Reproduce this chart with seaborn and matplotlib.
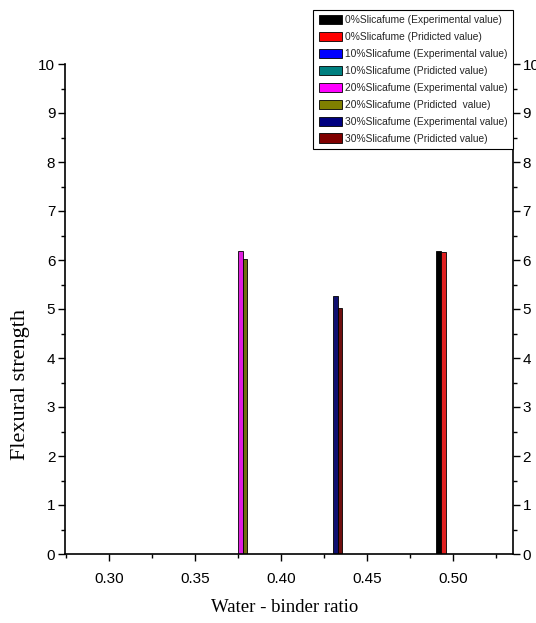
import numpy as np
import pandas as pd
import matplotlib
matplotlib.use("Agg")
import matplotlib.pyplot as plt
import seaborn as sns
from matplotlib.patches import Patch
from matplotlib.ticker import MultipleLocator
from matplotlib import font_manager

# ---------------- data ----------------
series_labels = [
    "0%Slicafume (Experimental value)",
    "0%Slicafume (Pridicted value)",
    "10%Slicafume (Experimental value)",
    "10%Slicafume (Pridicted value)",
    "20%Slicafume (Experimental value)",
    "20%Slicafume (Pridicted  value)",
    "30%Slicafume (Experimental value)",
    "30%Slicafume (Pridicted value)",
]
series_colors = ["#000000", "#FF0000", "#0000FF", "#008080",
                 "#FF00FF", "#808000", "#000080", "#800000"]

# visible bars (10% series have no visible bars)
bar_series = [
    "0%Slicafume (Experimental value)",
    "0%Slicafume (Pridicted value)",
    "20%Slicafume (Experimental value)",
    "20%Slicafume (Pridicted  value)",
    "30%Slicafume (Experimental value)",
    "30%Slicafume (Pridicted value)",
]
bar_ratio = [0.4918, 0.4945, 0.3763, 0.3790, 0.4316, 0.4343]
bar_strength = [6.18, 6.16, 6.18, 6.02, 5.27, 5.03]

x_ticks = [0.30, 0.35, 0.40, 0.45, 0.50]
x_ticklabels = ["0.30", "0.35", "0.40", "0.45", "0.50"]
y_ticks = list(range(0, 11))

# ---------------- style ----------------
sns.set_theme(style="white")
names = {f.name for f in font_manager.fontManager.ttflist}
narrow = "Liberation Sans Narrow" if "Liberation Sans Narrow" in names else "Liberation Sans"
plt.rcParams["font.family"] = [narrow, "DejaVu Sans"]

df = pd.DataFrame({"series": bar_series, "ratio": bar_ratio, "strength": bar_strength})
palette = dict(zip(series_labels, series_colors))

W, H = 536, 623
fig = plt.figure(figsize=(W / 100, H / 100), dpi=100)
ax = fig.add_axes([65 / W, 1 - 554 / H, (513 - 65) / W, (554 - 64) / H])

sns.barplot(data=df, x="ratio", y="strength", hue="series", hue_order=series_labels,
            palette=palette, native_scale=True, dodge=False, width=1.0,
            edgecolor="black", linewidth=0.6, errorbar=None, legend=False, ax=ax)

ax.set_xlim(0.2743, 0.535)
ax.set_ylim(0, 10)
ax.set_xticks(x_ticks)
ax.set_xticklabels(x_ticklabels)
ax.xaxis.set_minor_locator(MultipleLocator(0.025))
ax.set_yticks(y_ticks)
ax.yaxis.set_minor_locator(MultipleLocator(0.5))

ax.tick_params(axis="both", which="both", direction="out", color="black",
               labelsize=11, labelcolor="black", width=1.0)
ax.tick_params(axis="both", which="major", length=5, pad=2)
ax.tick_params(axis="both", which="minor", length=3)
ax.tick_params(axis="y", which="both", left=True, right=True, labelleft=True, labelright=True)
ax.tick_params(axis="x", which="both", bottom=True, top=False)
ax.tick_params(axis="x", which="major", pad=8)

for side in ["left", "right", "bottom"]:
    ax.spines[side].set_visible(True)
    ax.spines[side].set_color("black")
    ax.spines[side].set_linewidth(1.2)
ax.spines["top"].set_visible(False)
ax.grid(False)
ax.set_facecolor("white")

ax.set_xlabel("Water - binder ratio", family=["Liberation Serif"], fontsize=13.5, color="black")
ax.set_ylabel("Flexural strength", family=["Liberation Serif"], fontsize=16, color="black")
ax.xaxis.set_label_coords((285 - 65) / 448, (554 - 608) / 490)
ax.xaxis.label.set_va("center")
ax.yaxis.set_label_coords((21 - 65) / 448, (554 - 385) / 490)
ax.yaxis.label.set_va("center")

handles = [Patch(facecolor=c, edgecolor="black", linewidth=0.6) for c in series_colors]
leg = fig.legend(handles, series_labels, loc="upper right",
                 bbox_to_anchor=(513 / W, 1 - 10 / H), bbox_transform=fig.transFigure,
                 frameon=True, fancybox=False, shadow=False, framealpha=1,
                 edgecolor="black", fontsize=7.4, handlelength=2.3, handleheight=1.0,
                 handletextpad=0.3, labelspacing=0.66, borderpad=0.5, borderaxespad=0)
leg.get_frame().set_linewidth(0.8)

fig.savefig("out.png", dpi=100, facecolor="white")
